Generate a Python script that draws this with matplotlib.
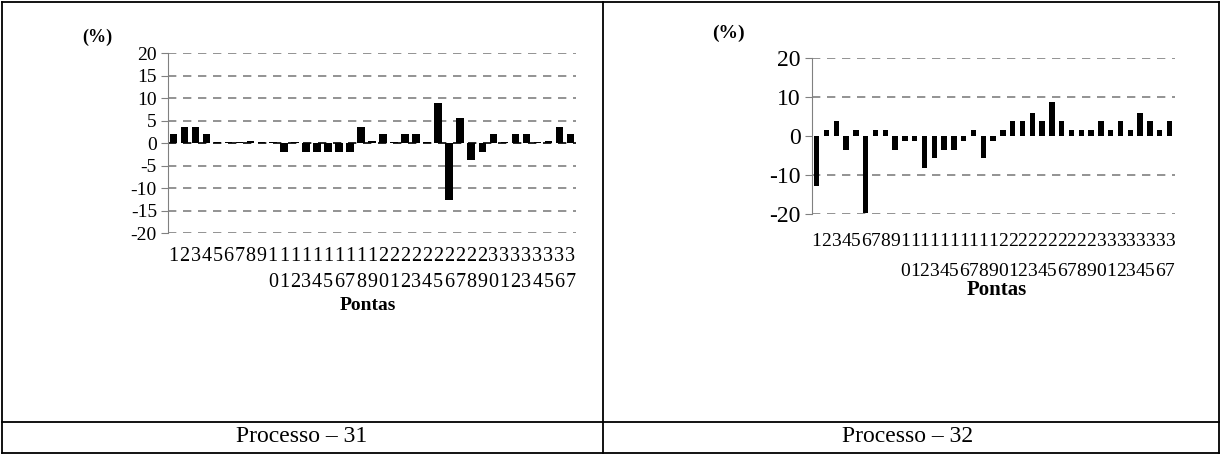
import numpy as np
import matplotlib.pyplot as plt
from matplotlib.lines import Line2D

plt.rcParams['font.family'] = ['Liberation Serif', 'DejaVu Serif']

# data (% per ponta)
pontas = np.arange(1, 38)
proc31 = [2, 3.7, 3.7, 2, 0.3, 0.3, 0.3, 0.5, 0.3, 0.3, -2, 0.3, -2, -2, -2, -2, -2,
          3.7, 0.5, 2, 0.3, 2, 2, 0.3, 9, -12.5, 5.6, -3.7, -2, 2, 0.3, 2, 2, 0.3,
          0.5, 3.7, 2]
proc32 = [-12.7, 1.7, 4, -3.5, 1.7, -19.8, 1.7, 1.7, -3.5, -1.2, -1.2, -8.3, -5.7,
          -3.5, -3.5, -1.3, 1.7, -5.6, -1.3, 1.7, 4, 4, 6, 4, 8.9, 4, 1.6, 1.6, 1.6,
          4, 1.6, 4, 1.6, 6, 4, 1.6, 4]
titles = ['Processo – 31', 'Processo – 32']
xlabels = [str(p) if p < 10 else f"{p // 10}\n{p % 10}" for p in pontas]

W, H = 1222, 455
fig = plt.figure(figsize=(W / 100, H / 100), dpi=100)


def box(x0, y0, x1, y1):
    # pixel box (top-left origin) -> figure fraction
    return [x0 / W, 1 - y1 / H, (x1 - x0) / W, (y1 - y0) / H]


def panel(rect, vals, yticks, width, ysize, xsize, lsp, xpad, zero_line):
    ax = fig.add_axes(rect)
    ax.bar(pontas, vals, width=width, color='black', zorder=3)
    ax.set_xlim(0.5, 37.5)
    ax.set_ylim(-20, 20)
    ax.set_yticks(yticks)
    ax.set_yticklabels([str(t) for t in yticks], fontsize=ysize)
    for t in yticks:
        if t == 0:
            if zero_line:
                ax.axhline(0, color='black', lw=1.2, ls=(0, (5, 4)), zorder=2)
            continue
        ax.axhline(t, color='#808080', lw=1.2, ls=(0, (5, 4)), zorder=1)
    ax.set_xticks(pontas)
    ax.set_xticklabels(xlabels, fontsize=xsize, linespacing=lsp)
    ax.tick_params(axis='x', length=0, pad=xpad)
    ax.tick_params(axis='y', length=5, color='#808080', pad=3)
    for s in ['top', 'right', 'bottom']:
        ax.spines[s].set_visible(False)
    ax.spines['left'].set_color('#808080')
    return ax


panel(box(168, 53.3, 576, 233.3), proc31, list(range(-20, 21, 5)), 0.68, 14, 14.5, 1.5, 10, True)
panel(box(811.7, 58.3, 1174.5, 214), proc32, list(range(-20, 21, 10)), 0.55, 17, 14, 2.0, 14, False)

# axis titles
fig.text(97 / W, 1 - 37 / H, '(%)', fontsize=13, fontweight='bold', ha='center', va='center')
fig.text(728 / W, 1 - 33 / H, '(%)', fontsize=14, fontweight='bold', ha='center', va='center')
fig.text(368 / W, 1 - 305 / H, 'Pontas', fontsize=14, fontweight='bold', ha='center', va='center')
fig.text(997 / W, 1 - 290 / H, 'Pontas', fontsize=15, fontweight='bold', ha='center', va='center')

# table frame
lines = [((2, 2), (2, 453)), ((1219, 1219), (2, 453)), ((603, 603), (2, 453)),
         ((2, 1219), (2, 2)), ((2, 1219), (422, 422)), ((2, 1219), (453, 453))]
for xs, ys in lines:
    fig.add_artist(Line2D([x / W for x in xs], [1 - y / H for y in ys], color='black', lw=1.3))

fig.text(302 / W, 1 - 437 / H, titles[0], fontsize=17, ha='center', va='center')
fig.text(908 / W, 1 - 437 / H, titles[1], fontsize=17, ha='center', va='center')

fig.savefig('out.png', dpi=100)
